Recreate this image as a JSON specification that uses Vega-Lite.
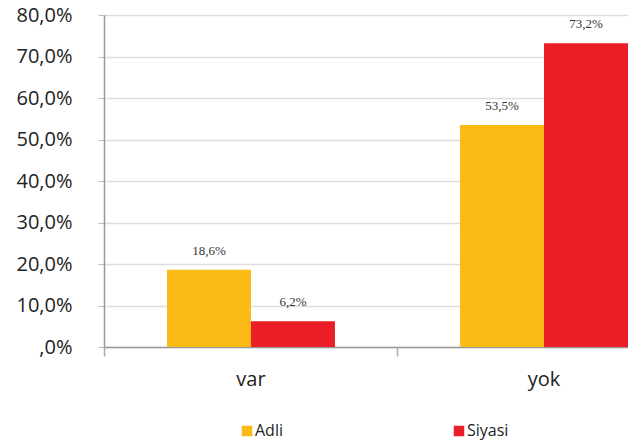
{
  "$schema": "https://vega.github.io/schema/vega-lite/v6.json",
  "autosize": "none",
  "padding": {"left": 104, "top": 15, "right": 0, "bottom": 99},
  "width": 587,
  "height": 332,
  "background": "white",
  "config": {"view": {"stroke": null}},
  "data": {"values": [
    {"kategori": "var", "grup": "Adli", "deger": 18.6, "etiket": "18,6%"},
    {"kategori": "var", "grup": "Siyasi", "deger": 6.2, "etiket": "6,2%"},
    {"kategori": "yok", "grup": "Adli", "deger": 53.5, "etiket": "53,5%"},
    {"kategori": "yok", "grup": "Siyasi", "deger": 73.2, "etiket": "73,2%"}
  ]},
  "encoding": {
    "xOffset": {"field": "grup", "type": "nominal", "sort": ["Adli", "Siyasi"], "scale": {"paddingInner": 0, "paddingOuter": 0}},
    "y": {"field": "deger", "type": "quantitative",
      "scale": {"domain": [0, 80], "nice": false},
      "axis": {"title": null, "values": [0, 10, 20, 30, 40, 50, 60, 70, 80],
        "labelExpr": "datum.value == 0 ? ',0%' : replace(format(datum.value, '.1f'), '.', ',') + '%'",
        "labelFont": "Open Sans", "labelFontSize": 20, "labelColor": "#222", "labelPadding": 26,
        "tickSize": 6, "tickColor": "#bbb", "gridColor": "#ddd", "gridWidth": 1.5,
        "domainColor": "#999", "domainWidth": 1.5}}
  },
  "resolve": {"axis": {"x": "independent"}},
  "layer": [
    {"mark": {"type": "bar"},
      "encoding": {
        "x": {"field": "kategori", "type": "nominal", "sort": ["var", "yok"],
          "scale": {"paddingInner": 0.427, "paddingOuter": 0.215},
          "axis": {"title": null, "labelAngle": 0, "labelFont": "Open Sans", "labelFontSize": 20, "labelColor": "#222", "labelPadding": 22, "ticks": false, "domainColor": "#999", "domainWidth": 1.5}},
        "color": {"field": "grup", "type": "nominal",
        "scale": {"domain": ["Adli", "Siyasi"], "range": ["#FBBA16", "#EB1D26"]},
        "legend": {"title": null, "orient": "none", "direction": "horizontal", "legendX": 135, "legendY": 408,
          "symbolType": "square", "symbolSize": 110, "symbolStrokeWidth": 0, "symbolOpacity": 1,
          "labelFont": "Open Sans", "labelFontSize": 16, "labelColor": "#222", "labelOffset": 0, "columnPadding": 168}}}},
    {"mark": {"type": "text", "baseline": "middle", "dy": -19, "font": "Liberation Serif", "fontSize": 13, "color": "#333"},
      "encoding": {
        "x": {"field": "kategori", "type": "nominal", "sort": ["var", "yok"],
          "axis": {"title": null, "orient": "bottom", "labels": false, "domain": false, "grid": false, "bandPosition": -0.375, "ticks": true, "tickSize": 9, "tickColor": "#aaa", "tickWidth": 1.5}},
        "text": {"field": "etiket"}}}
  ]
}
